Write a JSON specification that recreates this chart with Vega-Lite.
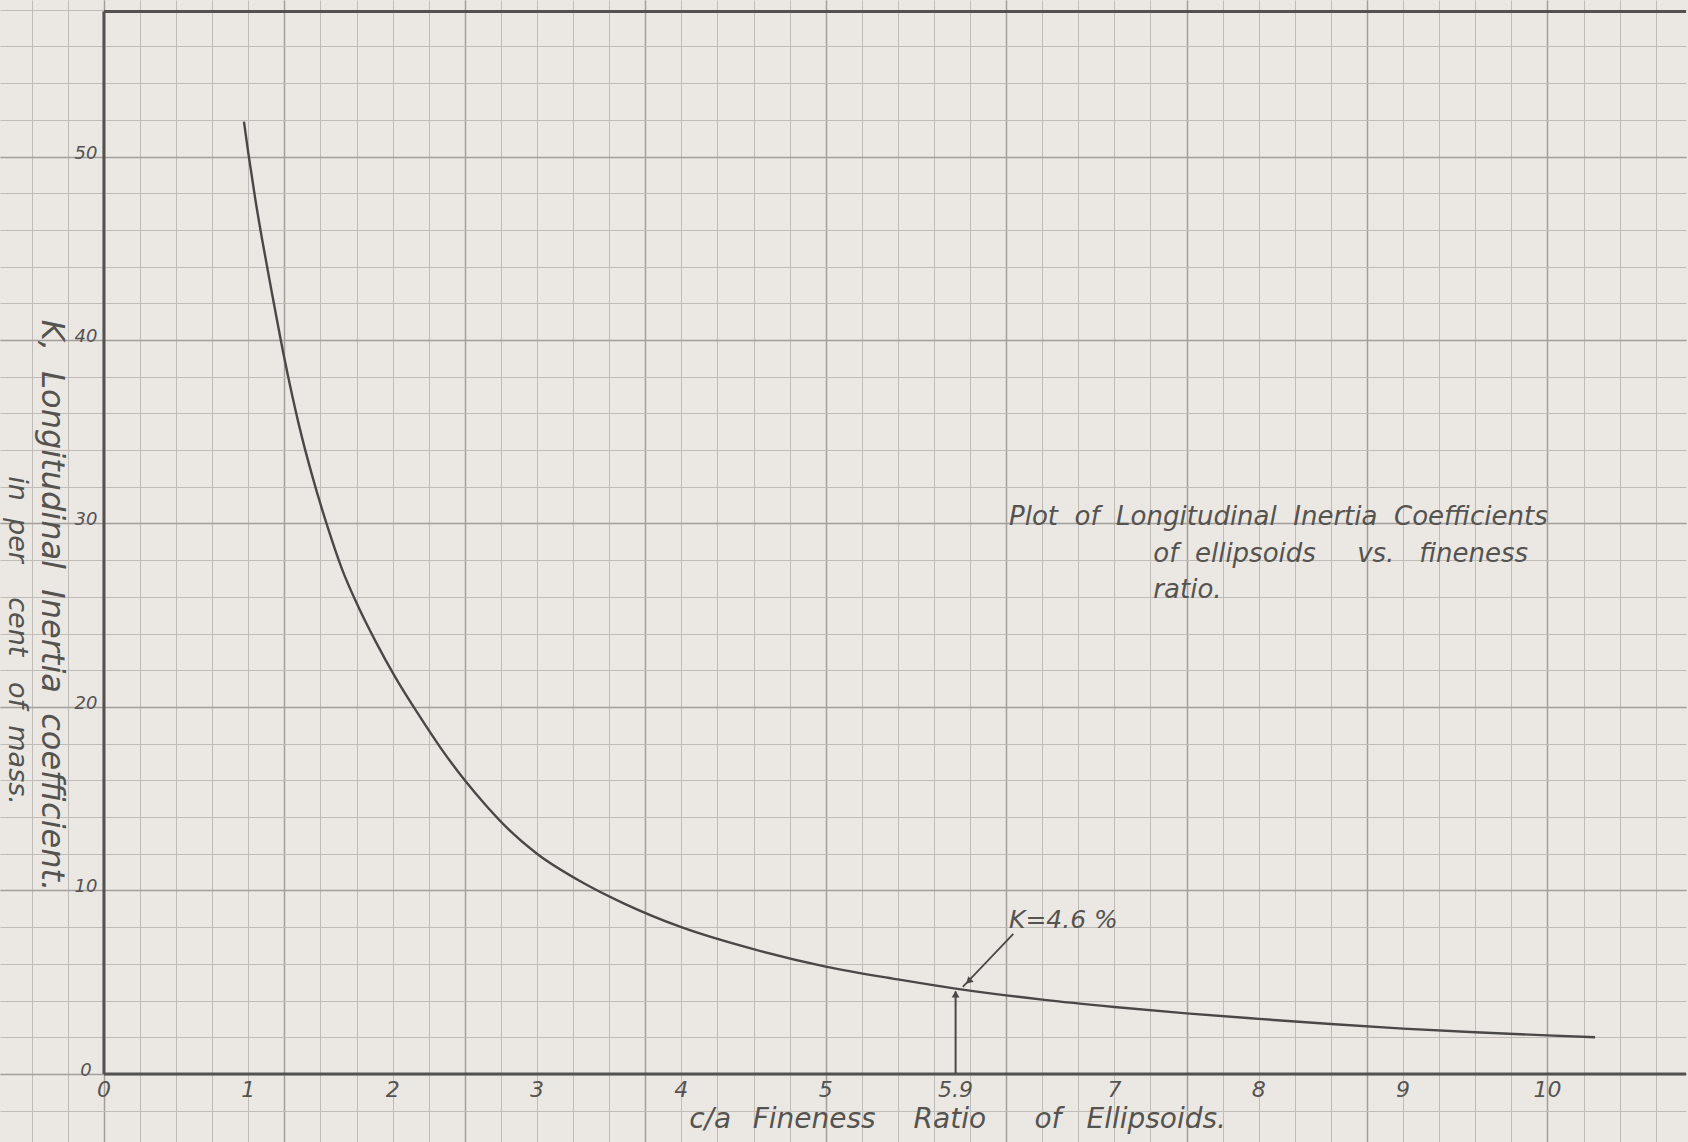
{
  "$schema": "https://vega.github.io/schema/vega-lite/v6.json",
  "width": 1688,
  "height": 1142,
  "autosize": {"type": "fit", "contains": "padding"},
  "padding": 0,
  "background": "#ebe8e4",
  "config": {
    "view": {"stroke": null},
    "axis": {"labels": false, "ticks": false, "domain": false, "title": null, "grid": false}
  },
  "resolve": {"axis": {"x": "independent", "y": "independent"}},
  "datasets": {
    "curve": [
      {"ratio": 0.97, "k": 51.9},
      {"ratio": 1.0, "k": 50.2},
      {"ratio": 1.05, "k": 47.6},
      {"ratio": 1.1, "k": 45.3},
      {"ratio": 1.17, "k": 42.3},
      {"ratio": 1.25, "k": 39.0},
      {"ratio": 1.35, "k": 35.4},
      {"ratio": 1.45, "k": 32.4},
      {"ratio": 1.55, "k": 29.8},
      {"ratio": 1.65, "k": 27.5},
      {"ratio": 1.76, "k": 25.5},
      {"ratio": 1.88, "k": 23.6},
      {"ratio": 2.02, "k": 21.6},
      {"ratio": 2.17, "k": 19.7},
      {"ratio": 2.33, "k": 17.8},
      {"ratio": 2.5, "k": 16.0},
      {"ratio": 2.65, "k": 14.6},
      {"ratio": 2.8, "k": 13.35},
      {"ratio": 3.0, "k": 12.0},
      {"ratio": 3.3, "k": 10.5},
      {"ratio": 3.6, "k": 9.3},
      {"ratio": 4.0, "k": 8.0},
      {"ratio": 4.5, "k": 6.8},
      {"ratio": 5.0, "k": 5.85},
      {"ratio": 5.5, "k": 5.15},
      {"ratio": 5.9, "k": 4.65},
      {"ratio": 6.5, "k": 4.05},
      {"ratio": 7.0, "k": 3.65},
      {"ratio": 7.5, "k": 3.3},
      {"ratio": 8.0, "k": 3.0},
      {"ratio": 8.5, "k": 2.72},
      {"ratio": 9.0, "k": 2.47},
      {"ratio": 9.5, "k": 2.27},
      {"ratio": 10.0, "k": 2.1},
      {"ratio": 10.33, "k": 2.0}
    ],
    "xticks": [
      {"v": 0, "t": "0"}, {"v": 1, "t": "1"}, {"v": 2, "t": "2"}, {"v": 3, "t": "3"},
      {"v": 4, "t": "4"}, {"v": 5, "t": "5"}, {"v": 5.9, "t": "5.9"}, {"v": 7, "t": "7"},
      {"v": 8, "t": "8"}, {"v": 9, "t": "9"}, {"v": 10, "t": "10"}
    ],
    "yticks": [
      {"v": 0, "t": "0"}, {"v": 10, "t": "10"}, {"v": 20, "t": "20"},
      {"v": 30, "t": "30"}, {"v": 40, "t": "40"}, {"v": 50, "t": "50"}
    ],
    "xtitle": [
      {"w": "c/a", "p": 4.2},
      {"w": "Fineness", "p": 4.92},
      {"w": "Ratio", "p": 5.86},
      {"w": "of", "p": 6.54},
      {"w": "Ellipsoids.", "p": 7.29}
    ],
    "note": [
      {"line": "Plot\u00a0\u00a0of\u00a0\u00a0Longitudinal\u00a0\u00a0Inertia\u00a0\u00a0Coefficients", "p": 6.27, "q": 30.35},
      {"line": "of\u00a0\u00a0ellipsoids\u00a0\u00a0\u00a0\u00a0\u00a0vs.\u00a0\u00a0\u00a0fineness", "p": 7.27, "q": 28.34},
      {"line": "ratio.", "p": 7.27, "q": 26.38}
    ]
  },
  "layer": [
    {
      "data": {"name": "curve"},
      "mark": {"type": "line", "interpolate": "monotone", "color": "#4a4846", "strokeWidth": 2.4},
      "encoding": {
        "x": {
          "field": "ratio", "type": "quantitative",
          "scale": {"domain": [-0.72, 10.96], "nice": false, "zero": false},
          "axis": {
            "orient": "bottom", "grid": true, "gridColor": "#bfbbb7", "gridWidth": 1, "gridOpacity": 1,
            "values": [-0.75,-0.5,-0.25,0,0.25,0.5,0.75,1,1.25,1.5,1.75,2,2.25,2.5,2.75,3,3.25,3.5,3.75,4,4.25,4.5,4.75,5,5.25,5.5,5.75,6,6.25,6.5,6.75,7,7.25,7.5,7.75,8,8.25,8.5,8.75,9,9.25,9.5,9.75,10,10.25,10.5,10.75]
          }
        },
        "y": {
          "field": "k", "type": "quantitative",
          "scale": {"domain": [-3.71, 58.53], "nice": false, "zero": false},
          "axis": {
            "orient": "left", "grid": true, "gridColor": "#bfbbb7", "gridWidth": 1, "gridOpacity": 1,
            "values": [-2,0,2,4,6,8,10,12,14,16,18,20,22,24,26,28,30,32,34,36,38,40,42,44,46,48,50,52,54,56,58]
          }
        }
      }
    },
    {
      "data": {"values": [{}]},
      "mark": {"type": "rule", "color": "#545250", "strokeWidth": 3},
      "encoding": {
        "x": {"datum": 0, "axis": {"orient": "top", "grid": true, "gridColor": "#a29f9b", "gridWidth": 1.5, "gridOpacity": 1, "values": [0, 1.25, 2.5, 3.75, 5, 6.25, 7.5, 8.75, 10]}},
        "y": {"datum": 0, "axis": {"orient": "right", "grid": true, "gridColor": "#a29f9b", "gridWidth": 1.5, "gridOpacity": 1, "values": [0, 10, 20, 30, 40, 50]}},
        "y2": {"datum": 57.9}
      }
    },
    {
      "data": {"values": [{}]},
      "mark": {"type": "rule", "color": "#545250", "strokeWidth": 3},
      "encoding": {"y": {"datum": 0, "axis": null}, "x": {"datum": 0, "axis": null}, "x2": {"datum": 10.96}}
    },
    {
      "data": {"values": [{}]},
      "mark": {"type": "rule", "color": "#545250", "strokeWidth": 3},
      "encoding": {"y": {"datum": 57.9, "axis": null}, "x": {"datum": 0, "axis": null}, "x2": {"datum": 10.96}}
    },
    {
      "data": {"values": [{}]},
      "mark": {"type": "rule", "color": "#4a4846", "strokeWidth": 2},
      "encoding": {"x": {"datum": 5.9, "axis": null}, "y": {"datum": 0, "axis": null}, "y2": {"datum": 4.5}}
    },
    {
      "data": {"values": [{}]},
      "mark": {"type": "rule", "color": "#4a4846", "strokeWidth": 1.8},
      "encoding": {"x": {"datum": 6.3, "axis": null}, "y": {"datum": 7.63, "axis": null}, "x2": {"datum": 5.95}, "y2": {"datum": 4.75}}
    },
    {
      "data": {"values": [{}]},
      "mark": {"type": "point", "shape": "triangle-up", "filled": true, "color": "#4a4846", "size": 60, "opacity": 1},
      "encoding": {"x": {"datum": 5.9, "axis": null}, "y": {"datum": 4.35, "axis": null}}
    },
    {
      "data": {"values": [{}]},
      "mark": {"type": "point", "shape": "triangle-up", "filled": true, "color": "#4a4846", "size": 60, "angle": 225, "opacity": 1},
      "encoding": {"x": {"datum": 5.99, "axis": null}, "y": {"datum": 5.05, "axis": null}}
    },
    {
      "data": {"name": "xticks"},
      "mark": {"type": "text", "font": "DejaVu Sans", "fontStyle": "italic", "fontSize": 22, "color": "#555350", "align": "center", "baseline": "middle"},
      "encoding": {"x": {"field": "v", "type": "quantitative", "axis": null}, "y": {"datum": -0.85, "axis": null}, "text": {"field": "t"}}
    },
    {
      "data": {"name": "yticks"},
      "mark": {"type": "text", "font": "DejaVu Sans", "fontStyle": "italic", "fontSize": 18, "color": "#555350", "align": "center", "baseline": "middle", "dx": -18, "dy": -3},
      "encoding": {"x": {"datum": 0, "axis": null}, "y": {"field": "v", "type": "quantitative", "axis": null}, "text": {"field": "t"}}
    },
    {
      "data": {"name": "xtitle"},
      "mark": {"type": "text", "font": "DejaVu Sans", "fontStyle": "italic", "fontSize": 28, "color": "#555350", "align": "center", "baseline": "middle"},
      "encoding": {"x": {"field": "p", "type": "quantitative", "axis": null}, "y": {"datum": -2.5, "axis": null}, "text": {"field": "w"}}
    },
    {
      "data": {"name": "note"},
      "mark": {"type": "text", "font": "DejaVu Sans", "fontStyle": "italic", "fontSize": 26, "color": "#555350", "align": "left", "baseline": "middle"},
      "encoding": {"x": {"field": "p", "type": "quantitative", "axis": null}, "y": {"field": "q", "type": "quantitative", "axis": null}, "text": {"field": "line"}}
    },
    {
      "data": {"values": [{}]},
      "mark": {"type": "text", "font": "DejaVu Sans", "fontStyle": "italic", "fontSize": 25, "color": "#555350", "align": "left", "baseline": "middle", "text": "K=4.6 %"},
      "encoding": {"x": {"datum": 6.27, "axis": null}, "y": {"datum": 8.39, "axis": null}}
    },
    {
      "data": {"values": [{}]},
      "mark": {"type": "text", "font": "DejaVu Sans", "fontStyle": "italic", "fontSize": 32, "color": "#555350", "align": "center", "baseline": "middle", "angle": 90, "text": "K,\u00a0\u00a0Longitudinal\u00a0\u00a0Inertia\u00a0\u00a0coefficient."},
      "encoding": {"x": {"datum": -0.36, "axis": null}, "y": {"datum": 25.53, "axis": null}}
    },
    {
      "data": {"values": [{}]},
      "mark": {"type": "text", "font": "DejaVu Sans", "fontStyle": "italic", "fontSize": 27, "color": "#555350", "align": "center", "baseline": "middle", "angle": 90, "text": "in\u00a0\u00a0per\u00a0\u00a0\u00a0\u00a0cent\u00a0\u00a0\u00a0of\u00a0\u00a0mass."},
      "encoding": {"x": {"datum": -0.6, "axis": null}, "y": {"datum": 23.62, "axis": null}}
    }
  ]
}
